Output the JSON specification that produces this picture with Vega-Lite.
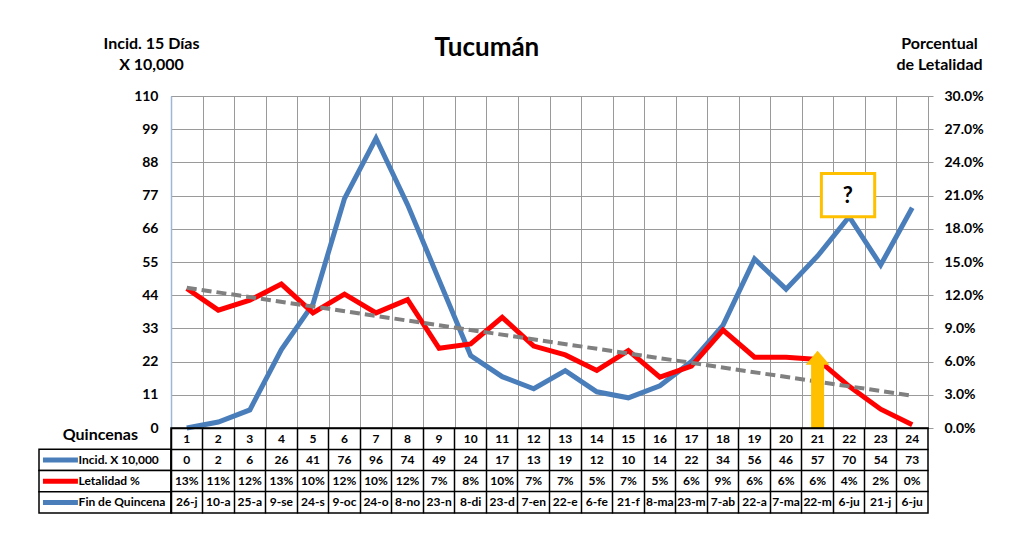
{
  "$schema": "https://vega.github.io/schema/vega-lite/v6.json",
  "background": "white",
  "padding": {"left": 38, "top": 34, "right": 20, "bottom": 20},
  "config": {"font": "Lato", "view": {"stroke": null}},
  "title": {"text": "Tucumán", "anchor": "middle", "fontSize": 26, "fontWeight": "bold", "color": "black", "offset": -26, "dx": -24},
  "datasets": {
    "main": [
      {"q": 1, "inc": 0, "let": 0.126, "fin": "26-j"},
      {"q": 2, "inc": 2, "let": 0.1065, "fin": "10-a"},
      {"q": 3, "inc": 6, "let": 0.1155, "fin": "25-a"},
      {"q": 4, "inc": 26, "let": 0.130, "fin": "9-se"},
      {"q": 5, "inc": 41, "let": 0.104, "fin": "24-s"},
      {"q": 6, "inc": 76, "let": 0.121, "fin": "9-oc"},
      {"q": 7, "inc": 96, "let": 0.104, "fin": "24-o"},
      {"q": 8, "inc": 74, "let": 0.116, "fin": "8-no"},
      {"q": 9, "inc": 49, "let": 0.072, "fin": "23-n"},
      {"q": 10, "inc": 24, "let": 0.076, "fin": "8-di"},
      {"q": 11, "inc": 17, "let": 0.100, "fin": "23-d"},
      {"q": 12, "inc": 13, "let": 0.074, "fin": "7-en"},
      {"q": 13, "inc": 19, "let": 0.066, "fin": "22-e"},
      {"q": 14, "inc": 12, "let": 0.052, "fin": "6-fe"},
      {"q": 15, "inc": 10, "let": 0.070, "fin": "21-f"},
      {"q": 16, "inc": 14, "let": 0.046, "fin": "8-ma"},
      {"q": 17, "inc": 22, "let": 0.056, "fin": "23-m"},
      {"q": 18, "inc": 34, "let": 0.0885, "fin": "7-ab"},
      {"q": 19, "inc": 56, "let": 0.064, "fin": "22-a"},
      {"q": 20, "inc": 46, "let": 0.064, "fin": "7-ma"},
      {"q": 21, "inc": 57, "let": 0.062, "fin": "22-m"},
      {"q": 22, "inc": 70, "let": 0.0376, "fin": "6-ju"},
      {"q": 23, "inc": 54, "let": 0.017, "fin": "21-j"},
      {"q": 24, "inc": 73, "let": 0.003, "fin": "6-ju"}
    ]
  },
  "columns": 2,
  "spacing": 0,
  "bounds": "flush",
  "align": "each",
  "concat": [
    {
      "width": 132,
      "height": 332,
      "data": {"values": [{}]},
      "mark": {"type": "point", "opacity": 0}
    },
    {
      "width": 757,
      "height": 332,
      "data": {"name": "main"},
      "view": {"stroke": "#9a9a9a"},
      "encoding": {
        "x": {
          "field": "q", "type": "quantitative",
          "scale": {"domain": [0.5, 24.5], "nice": false, "zero": false},
          "axis": {
            "values": [0.5, 1.5, 2.5, 3.5, 4.5, 5.5, 6.5, 7.5, 8.5, 9.5, 10.5, 11.5, 12.5, 13.5, 14.5, 15.5, 16.5, 17.5, 18.5, 19.5, 20.5, 21.5, 22.5, 23.5, 24.5],
            "tickCount": 30,
            "grid": true, "gridColor": "#9a9a9a", "gridOpacity": 1,
            "labels": false, "ticks": false, "domain": false, "title": null
          }
        }
      },
      "layer": [
        {
          "mark": {"type": "line", "color": "#4a7ebb", "strokeWidth": 5},
          "encoding": {
            "y": {
              "field": "inc", "type": "quantitative",
              "scale": {"domain": [0, 110], "nice": false},
              "axis": {
                "orient": "left",
                "values": [0, 11, 22, 33, 44, 55, 66, 77, 88, 99, 110],
                "tickCount": 11,
                "labelOverlap": false,
                "grid": true, "gridColor": "#9a9a9a", "gridOpacity": 1,
                "ticks": false, "domain": true, "domainColor": "#9fb6d6", "domainWidth": 1.5,
                "labelFontSize": 14, "labelFontWeight": "bold", "labelColor": "black", "labelPadding": 13,
                "title": ["Incid. 15 Días", "X 10,000"],
                "titleAngle": 0, "titleAlign": "center", "titleBaseline": "alphabetic",
                "titleX": -20, "titleY": -48, "titleLineHeight": 21,
                "titleFontSize": 16, "titleFontWeight": "bold", "titleColor": "black"
              }
            }
          }
        },
        {
          "layer": [
            {
              "mark": {"type": "line", "color": "#ff0000", "strokeWidth": 5},
              "encoding": {
                "y": {
                  "field": "let", "type": "quantitative",
                  "scale": {"domain": [0, 0.3], "nice": false},
                  "axis": {
                    "orient": "right",
                    "values": [0, 0.03, 0.06, 0.09, 0.12, 0.15, 0.18, 0.21, 0.24, 0.27, 0.30],
                    "tickCount": 11,
                    "labelOverlap": false,
                    "labelFlush": false,
                    "format": ".1%",
                    "grid": false, "ticks": true, "tickSize": 5, "tickColor": "#9a9a9a",
                    "domain": false,
                    "labelFontSize": 14, "labelFontWeight": "bold", "labelColor": "black", "labelPadding": 11,
                    "title": ["Porcentual", "de Letalidad"],
                    "titleAngle": 0, "titleAlign": "center", "titleBaseline": "alphabetic",
                    "titleX": 11, "titleY": -48, "titleLineHeight": 21,
                    "titleFontSize": 16, "titleFontWeight": "bold", "titleColor": "black"
                  }
                }
              }
            },
            {
              "transform": [{"regression": "let", "on": "q", "extent": [1, 24]}],
              "mark": {"type": "line", "color": "#808080", "strokeWidth": 4, "strokeDash": [10, 5]},
              "encoding": {"y": {"field": "let", "type": "quantitative"}}
            },
            {
              "transform": [{"filter": "datum.q == 21"}],
              "mark": {"type": "rule", "color": "#ffc000", "strokeWidth": 13},
              "encoding": {
                "y": {"datum": 0, "type": "quantitative"},
                "y2": {"datum": 0.062}
              }
            },
            {
              "transform": [{"filter": "datum.q == 21"}],
              "mark": {"type": "point", "shape": "M-1,0.58L0,-0.58L1,0.58Z", "size": 576, "filled": true, "color": "#ffc000", "opacity": 1},
              "encoding": {
                "y": {"datum": 0.0635, "type": "quantitative"}
              }
            },
            {
              "transform": [{"filter": "datum.q == 22"}],
              "mark": {"type": "rect", "fill": "white", "stroke": "#ffc000", "strokeWidth": 3},
              "encoding": {
                "x": {"datum": 21.12, "type": "quantitative"},
                "x2": {"datum": 22.81},
                "y": {"datum": 0.191, "type": "quantitative"},
                "y2": {"datum": 0.230}
              }
            },
            {
              "transform": [{"filter": "datum.q == 22"}],
              "mark": {"type": "text", "text": "?", "fontSize": 22, "fontWeight": "bold", "color": "black", "baseline": "middle", "align": "center"},
              "encoding": {
                "x": {"datum": 21.96, "type": "quantitative"},
                "y": {"datum": 0.21, "type": "quantitative"}
              }
            }
          ]
        }
      ],
      "resolve": {"scale": {"y": "independent"}, "axis": {"y": "independent"}}
    },
    {
      "width": 132,
      "height": 85,
      "data": {"values": [{"row": "Quincenas"}, {"row": "Incid. X 10,000"}, {"row": "Letalidad %"}, {"row": "Fin de Quincena"}]},
      "layer": [
        {
          "transform": [{"filter": "datum.row != 'Quincenas'"}],
          "mark": {"type": "rect", "fill": "white", "stroke": "black", "strokeWidth": 1.5},
          "encoding": {
            "y": {"field": "row", "type": "nominal", "scale": {"type": "band", "domain": ["Quincenas", "Incid. X 10,000", "Letalidad %", "Fin de Quincena"], "paddingInner": 0, "paddingOuter": 0}, "axis": null},
            "x": {"datum": 0, "type": "quantitative", "scale": {"domain": [0, 1], "nice": false}, "axis": null},
            "x2": {"datum": 1}
          }
        },
        {
          "transform": [{"filter": "datum.row != 'Quincenas'"}],
          "mark": {"type": "rule"},
          "encoding": {
            "y": {"field": "row", "type": "nominal", "bandPosition": 0.5},
            "x": {"datum": 0.03, "type": "quantitative"},
            "x2": {"datum": 0.295},
            "color": {"field": "row", "type": "nominal", "scale": {"domain": ["Incid. X 10,000", "Letalidad %", "Fin de Quincena"], "range": ["#4a7ebb", "#ff0000", "#4a7ebb"]}, "legend": null},
            "strokeWidth": {"field": "row", "type": "nominal", "scale": {"domain": ["Incid. X 10,000", "Letalidad %", "Fin de Quincena"], "range": [5, 5, 2.5]}, "legend": null}
          }
        },
        {
          "transform": [{"filter": "datum.row != 'Quincenas'"}],
          "mark": {"type": "text", "align": "left", "baseline": "middle", "fontSize": 12, "fontWeight": "bold", "color": "black"},
          "encoding": {
            "y": {"field": "row", "type": "nominal", "bandPosition": 0.5},
            "x": {"datum": 0.3, "type": "quantitative"},
            "text": {"field": "row"}
          }
        },
        {
          "transform": [{"filter": "datum.row == 'Quincenas'"}],
          "mark": {"type": "text", "align": "right", "baseline": "middle", "fontSize": 16, "fontWeight": "bold", "color": "black", "dy": -4},
          "encoding": {
            "y": {"field": "row", "type": "nominal", "bandPosition": 0.5},
            "x": {"datum": 0.75, "type": "quantitative"},
            "text": {"field": "row"}
          }
        }
      ]
    },
    {
      "width": 757,
      "height": 85,
      "data": {"name": "main"},
      "transform": [{"fold": ["q", "inc", "let", "fin"], "as": ["key", "value"]}],
      "view": {"stroke": "black", "strokeWidth": 1.5},
      "layer": [
        {
          "transform": [{"filter": "datum.key != 'let'"}],
          "mark": {"type": "text", "fontSize": 12, "fontWeight": "bold", "color": "black", "baseline": "middle", "align": "center"},
          "encoding": {
            "x": {
              "field": "q", "type": "ordinal", "bandPosition": 0.5,
              "scale": {"type": "band", "paddingInner": 0, "paddingOuter": 0},
              "axis": {"grid": true, "bandPosition": 0, "gridColor": "black", "gridWidth": 1.5, "gridOpacity": 1, "labels": false, "ticks": false, "domain": false, "title": null}
            },
            "y": {
              "field": "key", "type": "nominal", "bandPosition": 0.5,
              "scale": {"type": "band", "domain": ["q", "inc", "let", "fin"], "paddingInner": 0, "paddingOuter": 0},
              "axis": {"grid": true, "bandPosition": 0, "gridColor": "black", "gridWidth": 1.5, "gridOpacity": 1, "labels": false, "ticks": false, "domain": false, "title": null}
            },
            "text": {"field": "value", "type": "nominal"}
          }
        },
        {
          "transform": [{"filter": "datum.key == 'let'"}],
          "mark": {"type": "text", "fontSize": 12, "fontWeight": "bold", "color": "black", "baseline": "middle", "align": "center"},
          "encoding": {
            "x": {"field": "q", "type": "ordinal", "bandPosition": 0.5},
            "y": {"field": "key", "type": "nominal", "bandPosition": 0.5},
            "text": {"field": "value", "type": "quantitative", "format": ".0%"}
          }
        }
      ]
    }
  ]
}
